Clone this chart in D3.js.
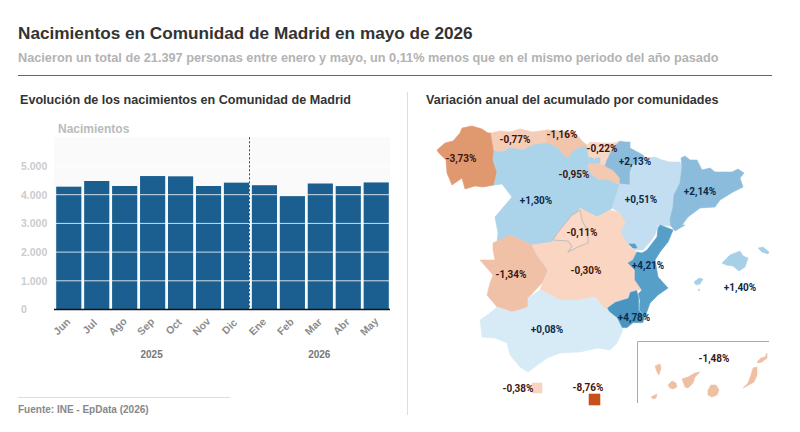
<!DOCTYPE html>
<html>
<head>
<meta charset="utf-8">
<script src="https://cdn.jsdelivr.net/npm/d3@7"></script>
<style>
    body { margin: 0; background: #fff; }
    text { font-family: "Liberation Sans", Arial, sans-serif; }
</style>
</head>
<body>
<div id="container"></div>
<script>
// nacimientos por mes
const months = ['Jun', 'Jul', 'Ago', 'Sep', 'Oct', 'Nov', 'Dic', 'Ene', 'Feb', 'Mar', 'Abr', 'May'];
const births = [4280, 4477, 4303, 4650, 4640, 4303, 4420, 4330, 3950, 4390, 4300, 4427];
const yTicks = [0, 1000, 2000, 3000, 4000, 5000];
const years = [['2025', 'Jun', 'Dic'], ['2026', 'Ene', 'May']];

const regionNames = ['Galicia', 'Asturias', 'Cantabria', 'Pais Vasco', 'La Rioja', 'Navarra', 'Castilla y Leon',
    'Aragon', 'Cataluna', 'Extremadura', 'Castilla-La Mancha', 'Madrid', 'C. Valenciana', 'Murcia', 'Andalucia',
    'Baleares', 'Canarias', 'Ceuta', 'Melilla'];
const regionValues = [-3.73, -0.77, -1.16, -0.22, -0.95, 2.13, 1.30, 0.51, 2.14, -1.34, -0.30, -0.11, 4.21, 4.78, 0.08, 1.40, -1.48, -0.38, -8.76];

const galicia = [[[437,150],[445,143],[453,141],[460,133],[462,128],[472,126],[482,129],[488,133],[491,133],[494,151],[493,160],[497,172],[494,185],[483,187],[475,186],[465,189],[462,178],[452,185],[447,173],[446,160],[438,152]]];
const asturias = [[[491,133],[500,131],[510,132],[520,129],[533,132],[547,130],[547,143],[533,145],[523,150],[510,148],[503,152],[494,151]]];
const cantabria = [[[547,130],[562,131],[575,133],[583,142],[587,145],[587,147],[580,147],[572,152],[568,158],[565,157],[558,148],[547,143]]];
const paisVasco = [[[587,145],[590,142],[603,143],[613,143],[620,141],[613,148],[607,160],[605,166],[597,163],[593,158],[588,157]]];
const rioja = [[[590,163],[597,163],[605,166],[613,170],[622,180],[621,183],[617,184],[608,180],[598,180],[590,173],[587,165]]];
const navarra = [[[620,141],[625,142],[630,142],[630,148],[643,155],[645,158],[633,165],[630,172],[630,185],[620,184],[620,178],[613,170],[605,166],[607,160],[613,148]]];
const castillaLeon = [
    [[494,151],[503,152],[510,148],[523,150],[533,145],[547,143],[558,148],[565,157],[568,158],[572,152],[580,147],[587,147],[588,157],[593,158],[597,163],[590,163],[587,165],[590,173],[598,180],[608,180],[617,184],[620,184],[618,190],[612,208],[610,210],[597,217],[580,208],[577,213],[567,223],[552,242],[532,245],[510,235],[497,242],[498,233],[495,217],[512,197],[502,184],[494,185],[497,172],[493,160]],
    [[595,158],[600,158],[600,163],[596,163]]
];
const aragon = [[[645,158],[655,157],[662,160],[670,162],[680,162],[682,167],[680,183],[674,195],[673,207],[670,220],[671,226],[658,225],[655,235],[650,242],[643,250],[635,250],[628,245],[620,232],[625,223],[620,213],[612,208],[618,190],[620,184],[630,185],[630,172],[633,165]]];
const cataluna = [[[681,158],[685,156],[690,160],[697,160],[702,170],[710,168],[715,172],[732,172],[738,169],[744,173],[740,178],[743,187],[733,192],[720,200],[715,207],[700,208],[688,217],[682,225],[685,225],[675,231],[671,226],[670,220],[673,207],[674,195],[680,183],[682,167]]];
const extremadura = [[[493,243],[510,235],[532,245],[537,255],[548,270],[543,282],[528,298],[528,307],[520,310],[512,312],[497,307],[487,295],[490,283],[493,275],[480,260],[495,260],[493,250]]];
const castillaMancha = [[[532,245],[552,242],[567,223],[577,213],[580,208],[597,217],[610,210],[620,213],[625,223],[620,232],[628,245],[637,252],[633,260],[628,263],[635,270],[635,280],[642,290],[637,290],[630,292],[628,298],[615,302],[607,308],[607,310],[603,307],[595,297],[580,300],[560,300],[550,295],[540,290],[543,282],[548,270],[537,255]]];
const madrid = [[[580,210],[582,220],[588,232],[588,243],[580,246],[568,252],[572,246],[568,241],[553,240],[558,232],[572,215]]];
const valencia = [
    [[658,228],[660,225],[673,230],[668,242],[660,252],[655,260],[658,277],[668,288],[658,295],[650,303],[645,317],[639,310],[640,300],[637,295],[642,290],[635,280],[635,270],[628,263],[633,260],[637,252],[642,253],[647,250],[657,237]],
    [[629,244],[635,244],[637,248],[633,248]]
];
const murcia = [[[607,308],[615,302],[628,298],[630,292],[637,290],[639,298],[639,310],[645,317],[643,323],[633,323],[627,328],[620,328],[612,318]]];
const andalucia = [[[480,320],[490,313],[497,307],[512,312],[520,310],[528,307],[528,298],[540,290],[550,295],[560,300],[580,300],[595,297],[603,307],[607,310],[617,318],[623,330],[617,343],[610,350],[598,348],[580,352],[560,353],[547,358],[528,372],[520,367],[510,355],[507,343],[495,338],[482,337]]];
const baleares = [
    [[722,263],[730,255],[740,251],[743,256],[748,258],[745,267],[739,271],[733,266],[726,265]],
    [[758,248],[763,247],[769,252],[768,254],[762,252]],
    [[694,282],[699,278],[703,279],[700,284],[696,285]],
    [[698,289],[700,290],[699,291]]
];
const canarias = [
    [[655,366],[660,364],[661,368],[659,375],[657,372]],
    [[668,385],[672,381],[676,383],[677,387],[673,389],[670,388]],
    [[682,379],[688,377],[695,373],[700,372],[695,377],[693,383],[688,388],[685,387]],
    [[651,397],[657,394],[656,398],[653,399]],
    [[708,390],[711,385],[716,385],[719,390],[717,395],[712,397],[708,395]],
    [[743,388],[748,383],[751,375],[753,368],[757,367],[757,375],[754,382],[747,386]],
    [[757,362],[761,358],[765,357],[767,353],[767,358],[762,362],[758,363]]
];
const ceuta = [[[532,383],[542,383],[542,393],[532,393]]];
const melilla = [[[589,394],[600,394],[600,405],[589,405]]];

const regionShapes = [galicia, asturias, cantabria, paisVasco, rioja, navarra, castillaLeon, aragon, cataluna, extremadura,
    castillaMancha, madrid, valencia, murcia, andalucia, baleares, canarias, ceuta, melilla];
const labelAnchors = [[461,158],[515,139],[562,134],[602,148],[574,174],[635,161],[536,200],[641,199],[700,191],
    [511,274],[586,270],[582,232],[648,265],[634,317],[547,329],[740,287],[714,358],[518,388],[588,387]];

const svg = d3.select('#container')
    .append('svg')
    .attr('width', 800)
    .attr('height', 432);

const addText = (x, y, str, size, color) => svg.append('text')
    .attr('x', x)
    .attr('y', y)
    .attr('font-size', size)
    .attr('font-weight', 'bold')
    .attr('fill', color)
    .text(str);

// cabecera
addText(18, 39, 'Nacimientos en Comunidad de Madrid en mayo de 2026', 17.2, '#333');
addText(18, 62, 'Nacieron un total de 21.397 personas entre enero y mayo, un 0,11% menos que en el mismo periodo del año pasado', 12.72, '#b3b3b3');
addText(20, 104, 'Evolución de los nacimientos en Comunidad de Madrid', 12.6, '#333');
addText(426, 104, 'Variación anual del acumulado por comunidades', 12.6, '#333');
addText(18, 413, 'Fuente: INE - EpData (2026)', 10, '#888');

svg.append('line').attr('x1', 18).attr('x2', 772).attr('y1', 75.5).attr('y2', 75.5).attr('stroke', '#666');
svg.append('line').attr('x1', 407.5).attr('x2', 407.5).attr('y1', 92).attr('y2', 415).attr('stroke', '#ddd');
svg.append('line').attr('x1', 18).attr('x2', 230).attr('y1', 397.5).attr('y2', 397.5).attr('stroke', '#ddd');

// barras
const margin = { top: 137.3, right: 390, bottom: 309.5, left: 54 };

const x = d3.scaleBand()
    .domain(months)
    .range([56.2, 388.8])
    .paddingInner(0.1);

const y = d3.scaleLinear()
    .domain([0, 6000])
    .range([margin.bottom, margin.top]);

svg.append('rect')
    .attr('x', margin.left)
    .attr('y', margin.top)
    .attr('width', margin.right - margin.left)
    .attr('height', margin.bottom - margin.top)
    .attr('fill', '#fafafa');

svg.append('g')
    .selectAll('rect')
    .data(months)
    .enter()
    .append('rect')
    .attr('x', d => x(d))
    .attr('y', (d, i) => y(births[i]))
    .attr('width', x.bandwidth())
    .attr('height', (d, i) => y(0) - y(births[i]))
    .attr('fill', '#1a5f8f');

const es = d3.formatLocale({ decimal: ',', thousands: '.', grouping: [3], currency: ['', ''] });

const yAxis = svg.append('g')
    .attr('transform', `translate(${margin.left}, 0)`)
    .call(d3.axisLeft(y).tickValues(yTicks).tickSize(0).tickFormat(es.format(',d')));
yAxis.select('.domain').remove();
yAxis.selectAll('text')
    .attr('x', -33)
    .attr('text-anchor', 'start')
    .attr('font-size', 10.5)
    .attr('font-weight', 'bold')
    .attr('fill', '#ccc');

svg.append('g')
    .selectAll('line')
    .data(yTicks.slice(1))
    .enter()
    .append('line')
    .attr('x1', margin.left)
    .attr('x2', margin.right)
    .attr('y1', d => y(d))
    .attr('y2', d => y(d))
    .attr('stroke', '#fff')
    .attr('stroke-opacity', 0.8);

addText(58, 133, 'Nacimientos', 12, '#bbb');

svg.append('line')
    .attr('x1', 249.5)
    .attr('x2', 249.5)
    .attr('y1', margin.top)
    .attr('y2', margin.bottom)
    .attr('stroke', '#444')
    .attr('stroke-dasharray', '2,2');

const xAxis = svg.append('g')
    .attr('transform', `translate(0, ${margin.bottom})`)
    .call(d3.axisBottom(x).tickSize(0));
xAxis.select('.domain').remove();
xAxis.selectAll('text')
    .attr('transform', 'translate(-7, 17) rotate(-45)')
    .attr('y', 0)
    .attr('dy', '0.35em')
    .attr('text-anchor', 'middle')
    .attr('font-size', 10.5)
    .attr('font-weight', 'bold')
    .attr('fill', '#8c8c8c');

svg.append('line')
    .attr('x1', margin.left)
    .attr('x2', margin.right)
    .attr('y1', margin.bottom)
    .attr('y2', margin.bottom)
    .attr('stroke', '#111')
    .attr('stroke-width', 1.5);

years.forEach(([label, first, last]) => {
    addText((x(first) + x(last) + x.bandwidth()) / 2 - 1, 358, label, 10, '#777')
        .attr('text-anchor', 'middle');
});

// mapa
const mapColor = d3.scaleLinear()
    .domain([-8.76, -3.73, -1.4, -0.2, -0.05, 0.05, 0.08, 0.51, 1.3, 2.13, 4.21, 4.78])
    .range(['#c8501a', '#e0986f', '#f0c0a5', '#fad7c5', '#fbd9c8', '#d9edf7', '#d6ebf6', '#c2def0', '#abd3e9', '#8bbcdb', '#559fc8', '#4a94c0']);

const projection = d3.geoIdentity();
const path = d3.geoPath(projection);

const features = regionNames.map((name, i) => ({
    type: 'Feature',
    properties: { name, value: regionValues[i] },
    geometry: { type: 'MultiPolygon', coordinates: regionShapes[i].map(ring => [ring.concat([ring[0]])]) }
}));

svg.append('g')
    .selectAll('path')
    .data(features)
    .enter()
    .append('path')
    .attr('d', path)
    .attr('fill', d => mapColor(d.properties.value))
    .attr('stroke', d => {
        if (d.properties.name === 'Madrid') return '#c4c0bc';
        if (d.properties.name === 'Murcia') return '#cfe4f0';
        return mapColor(d.properties.value);
    })
    .attr('stroke-width', d => d.properties.name === 'Madrid' ? 1.1 : 0.6)
    .attr('stroke-linejoin', 'round');

// recuadro de Canarias
svg.append('path')
    .attr('d', 'M769,341.5H637.5V403')
    .attr('fill', 'none')
    .attr('stroke', '#aaa');

const esFixed = es.format('+.2f');

svg.append('g')
    .selectAll('text')
    .data(features)
    .enter()
    .append('text')
    .attr('x', (d, i) => projection(labelAnchors[i])[0])
    .attr('y', (d, i) => projection(labelAnchors[i])[1])
    .attr('dy', '0.35em')
    .attr('text-anchor', 'middle')
    .attr('font-size', 10)
    .attr('font-weight', 700)
    .style('font-family', 'Roboto, sans-serif')
    .attr('fill', d => d.properties.value < 0 ? '#3f1510' : '#0c2b4a')
    .text(d => esFixed(d.properties.value).replace('−', '-') + '%');
</script>
</body>
</html>
